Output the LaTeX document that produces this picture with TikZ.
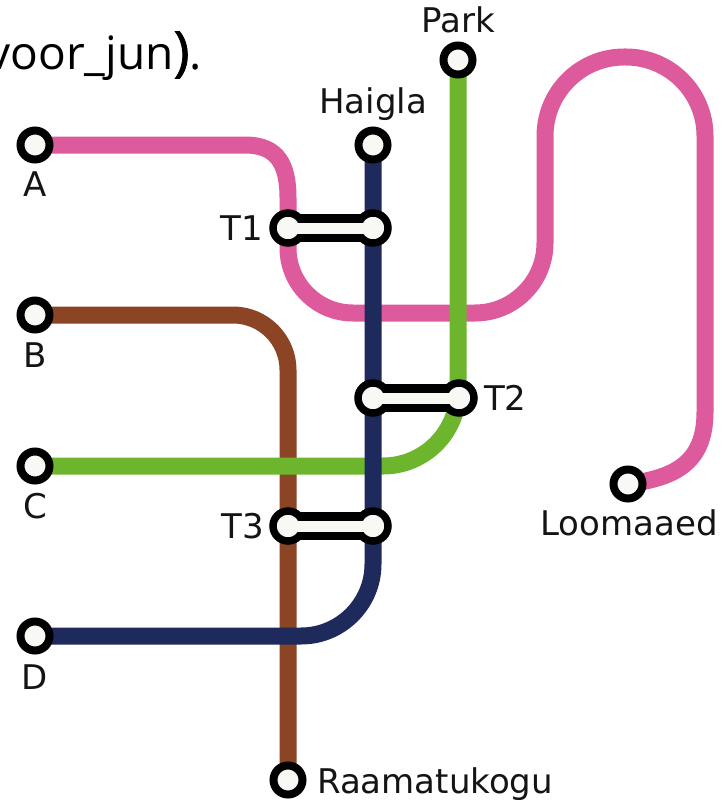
\documentclass[tikz,border=0pt]{standalone}
\usepackage{fontspec}
\setmainfont{DejaVu Sans}
\newfontfamily\titlefont{Open Sans}
\definecolor{pinkline}{HTML}{DD5A9C}
\definecolor{navyline}{HTML}{1F2A5C}
\definecolor{greenline}{HTML}{6CB52D}
\definecolor{brownline}{HTML}{8B4424}
\definecolor{offwhite}{HTML}{F8F8F5}
\pgfdeclarelayer{bg}
\pgfdeclarelayer{mid}
\pgfdeclarelayer{fg}
\pgfsetlayers{bg,mid,main,fg}
\begin{document}
\begin{tikzpicture}[x=1pt,y=-1pt,
  station/.style={circle, draw=black, line width=8pt, fill=offwhite, minimum size=29pt, inner sep=0pt},
  xnode/.style={circle, draw=black, line width=7.5pt, fill=offwhite, minimum size=30pt, inner sep=0pt},
  route/.style={line width=17pt, line cap=butt, line join=round},
  barout/.style={line width=28pt, black, line cap=butt},
  barin/.style={line width=11pt, offwhite, line cap=butt},
  lbl/.style={font=\fontsize{34}{34}\selectfont, inner sep=0pt, text=black!92}]
\useasboundingbox (0,0) rectangle (720,800);

% title fragment
\node[anchor=base east, inner sep=0pt, font=\titlefont\fontsize{46}{46}\selectfont] (title) at (202,70) {voor\_jun{\fontsize{54}{54}\selectfont\addfontfeature{FakeBold=1.5})}.};

% stations
\node[station] (A) at (35,145) {};
\node[station] (B) at (35,315) {};
\node[station] (C) at (35,466) {};
\node[station] (D) at (35,636) {};
\node[station] (Haigla) at (373,145) {};
\node[station] (Park) at (458,60) {};
\node[station] (Loomaaed) at (628,484) {};
\node[station] (Raam) at (288,780) {};

% interchanges
\node[xnode] (T1a) at (288,228) {};
\node[xnode] (T1b) at (373,228) {};
\node[xnode] (T2a) at (373,398) {};
\node[xnode] (T2b) at (459,398) {};
\node[xnode] (T3a) at (288,526) {};
\node[xnode] (T3b) at (373,526) {};

% labels
\node[lbl, anchor=base] (lA) at (35,196) {A};
\node[lbl, anchor=base] (lB) at (35,367) {B};
\node[lbl, anchor=base] (lC) at (35,518) {C};
\node[lbl, anchor=base] (lD) at (35,689) {D};
\node[lbl, anchor=base] (lH) at (373,113) {Haigla};
\node[lbl, anchor=base] (lP) at (458,33) {Park};
\node[lbl, anchor=base] (lL) at (629,535) {Loomaaed};
\node[lbl, anchor=base west] (lR) at (317,793) {Raamatukogu};
\node[lbl, anchor=base east] (l1) at (263,240) {T1};
\node[lbl, anchor=base west] (l2) at (484,410) {T2};
\node[lbl, anchor=base east] (l3) at (264,538) {T3};

\begin{pgfonlayer}{bg}
  % pink
  \draw[route, pinkline] (A.center) -- (245,145)
     .. controls (278,145) and (288,165) .. (288,198)
     [rounded corners=65pt] -- (288,313)
     [rounded corners=70pt] -- (545,313)
     [rounded corners=79pt] -- (545,57) -- (705,57) [sharp corners] -- (705,412)
     .. controls (705,465) and (672,478) .. (Loomaaed.center);
  % brown
  \draw[route, brownline] (B.center) [rounded corners=55pt] -- (288,315) -- (Raam.center);
  % green
  \draw[route, greenline] (Park.center) [rounded corners=75pt] -- (458,466) -- (C.center);
  % navy
  \draw[route, navyline] (Haigla.center) [rounded corners=72pt] -- (373,636) -- (D.center);
\end{pgfonlayer}

\begin{pgfonlayer}{mid}
  \draw[barout] (T1a.center) -- (T1b.center);
  \draw[barout] (T2a.center) -- (T2b.center);
  \draw[barout] (T3a.center) -- (T3b.center);
\end{pgfonlayer}

\begin{pgfonlayer}{fg}
  \draw[barin] (T1a.center) -- (T1b.center);
  \draw[barin] (T2a.center) -- (T2b.center);
  \draw[barin] (T3a.center) -- (T3b.center);
\end{pgfonlayer}
\end{tikzpicture}
\end{document}
